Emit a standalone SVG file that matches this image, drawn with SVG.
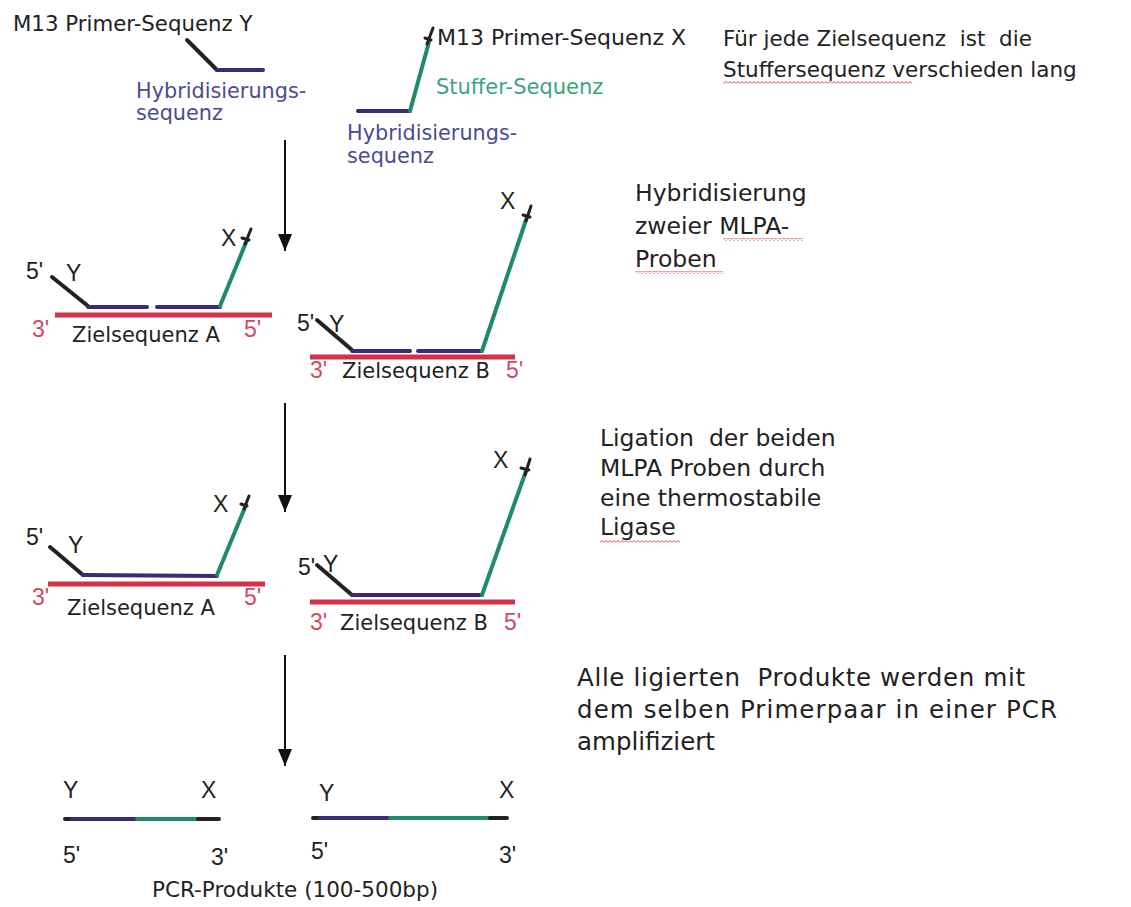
<svg xmlns="http://www.w3.org/2000/svg" width="1131" height="907" viewBox="0 0 1131 907">
<defs>
<style>
.dna{fill:none;stroke-width:4;stroke-linecap:round;stroke-linejoin:round}
.blk{stroke:#222}
.pur{stroke:#3b2a78}
.grn{stroke:#1f8c63}
.red{stroke:#d3304a;stroke-width:5;stroke-linecap:butt}
.tick{fill:none;stroke:#222;stroke-width:3;stroke-linecap:round}
.t{font-family:"DejaVu Sans",Verdana,sans-serif;fill:#222}
.lab{font-family:"Liberation Sans",Arial,sans-serif;font-size:23px;fill:#222}
.rl{fill:#d04a62}
.hyb{fill:#4c4c8e}
.stf{fill:#3aa57c}
.arr{stroke:#111;stroke-width:2;fill:none}
</style>
<marker id="ah" markerWidth="17" markerHeight="14" refX="17" refY="7" orient="auto" markerUnits="userSpaceOnUse" viewBox="0 0 17 14"><path d="M0,0 L17,7 L0,14 Z" fill="#111"/></marker>
<pattern id="wv" patternUnits="userSpaceOnUse" width="4" height="3"><path d="M0,2.5 L2,0.5 L4,2.5" fill="none" stroke="#d03a3a" stroke-width="0.9"/></pattern>
</defs>
<rect width="1131" height="907" fill="#fff"/>

<g id="connectors">
<line class="arr" x1="285" y1="140" x2="285" y2="251" marker-end="url(#ah)"/>
<line class="arr" x1="285" y1="403" x2="285" y2="512" marker-end="url(#ah)"/>
<line class="arr" x1="285" y1="655" x2="285" y2="766" marker-end="url(#ah)"/>
</g>

<g id="probe-y">
<path class="dna blk" d="M187,40 L217,70"/>
<path class="dna pur" d="M217,70 L263,70"/>
<text class="t" x="13" y="31" font-size="21.3">M13 Primer-Sequenz Y</text>
<text class="t hyb" x="136" y="98" font-size="20.8">Hybridisierungs-</text>
<text class="t hyb" x="136" y="120" font-size="20.8">sequenz</text>
</g>

<g id="probe-x">
<path class="dna pur" d="M358,111 L410,111"/>
<path class="dna grn" d="M410,111 L429,42"/>
<path class="tick" d="M427,44 L433,28 M425,38 L431,40"/>
<text class="t" x="437" y="45" font-size="22">M13 Primer-Sequenz X</text>
<text class="t stf" x="436" y="94" font-size="21">Stuffer-Sequenz</text>
<text class="t hyb" x="347" y="140" font-size="20.8">Hybridisierungs-</text>
<text class="t hyb" x="347" y="163" font-size="20.8">sequenz</text>
</g>

<g id="note-stuffer">
<text class="t" x="723" y="46" font-size="21.5" xml:space="preserve">Für jede Zielsequenz  ist  die</text>
<text class="t" x="723" y="77" font-size="21.5">Stuffersequenz verschieden lang</text>
<rect x="723" y="81" width="189" height="3" fill="url(#wv)"/>
</g>

<g id="hyb-a">
<path class="red" d="M55,315 L272,315"/>
<path class="dna blk" d="M52,277 L88,306"/>
<path class="dna pur" d="M88,307 L147,307 M157,307 L220,307"/>
<path class="dna grn" d="M220,306 L247,240"/>
<path class="tick" d="M245,244 L251,229 M242,238 L249,240"/>
<text class="lab" x="26" y="279">5'</text>
<text class="lab" x="66" y="281">Y</text>
<text class="lab" x="221" y="246">X</text>
<text class="lab rl" x="32" y="337">3'</text>
<text class="t" x="72" y="342" font-size="21">Zielsequenz A</text>
<text class="lab rl" x="244" y="337">5'</text>
</g>

<g id="hyb-b">
<path class="red" d="M310,357 L515,357"/>
<path class="dna blk" d="M317,320 L352,350"/>
<path class="dna pur" d="M352,351 L410,351 M418,351 L482,351"/>
<path class="dna grn" d="M482,351 L527,217"/>
<path class="tick" d="M526,221 L531,206 M523,215 L530,217"/>
<text class="lab" x="297" y="331">5'</text>
<text class="lab" x="329" y="332">Y</text>
<text class="lab" x="500" y="209">X</text>
<text class="lab rl" x="310" y="378">3'</text>
<text class="t" x="342" y="378" font-size="21">Zielsequenz B</text>
<text class="lab rl" x="506" y="378">5'</text>
</g>

<g id="note-hyb">
<text class="t" x="635" y="201" font-size="23.5">Hybridisierung</text>
<text class="t" x="635" y="234" font-size="23.5">zweier MLPA-</text>
<text class="t" x="635" y="267" font-size="23.5">Proben</text>
<rect x="723" y="238" width="80" height="3" fill="url(#wv)"/>
<rect x="635" y="271" width="88" height="3" fill="url(#wv)"/>
</g>

<g id="lig-a">
<path class="red" d="M48,584 L265,584"/>
<path class="dna blk" d="M50,547 L83,575"/>
<path class="dna pur" d="M83,575 L217,576"/>
<path class="dna grn" d="M217,575 L246,505"/>
<path class="tick" d="M244,509 L249,496 M241,504 L247,506"/>
<text class="lab" x="26" y="545">5'</text>
<text class="lab" x="68" y="553">Y</text>
<text class="lab" x="213" y="512">X</text>
<text class="lab rl" x="32" y="605">3'</text>
<text class="t" x="67" y="615" font-size="21">Zielsequenz A</text>
<text class="lab rl" x="244" y="605">5'</text>
</g>

<g id="lig-b">
<path class="red" d="M310,602 L515,602"/>
<path class="dna blk" d="M317,565 L352,595"/>
<path class="dna pur" d="M352,595 L482,595"/>
<path class="dna grn" d="M482,595 L526,471"/>
<path class="tick" d="M525,475 L530,459 M521,468 L529,470"/>
<text class="lab" x="298" y="575">5'</text>
<text class="lab" x="323" y="572">Y</text>
<text class="lab" x="493" y="468">X</text>
<text class="lab rl" x="310" y="630">3'</text>
<text class="t" x="340" y="630" font-size="21">Zielsequenz B</text>
<text class="lab rl" x="504" y="630">5'</text>
</g>

<g id="note-lig">
<text class="t" x="600" y="446" font-size="23.5" xml:space="preserve">Ligation  der beiden</text>
<text class="t" x="600" y="476" font-size="23.5">MLPA Proben durch</text>
<text class="t" x="600" y="506" font-size="23.5">eine thermostabile</text>
<text class="t" x="600" y="535" font-size="23.5">Ligase</text>
<rect x="600" y="540" width="80" height="3" fill="url(#wv)"/>
</g>

<g id="pcr-1">
<path class="dna blk" d="M65,819 L72,819"/>
<path class="dna pur" d="M72,819 L137,819"/>
<path class="dna grn" d="M137,819 L198,819"/>
<path class="dna blk" d="M198,819 L219,819"/>
<text class="lab" x="63" y="798">Y</text>
<text class="lab" x="201" y="798">X</text>
<text class="lab" x="63" y="863">5'</text>
<text class="lab" x="211" y="865">3'</text>
</g>

<g id="pcr-2">
<path class="dna blk" d="M313,818 L320,818"/>
<path class="dna pur" d="M320,818 L390,818"/>
<path class="dna grn" d="M390,818 L490,818"/>
<path class="dna blk" d="M490,818 L507,818"/>
<text class="lab" x="319" y="801">Y</text>
<text class="lab" x="499" y="798">X</text>
<text class="lab" x="311" y="859">5'</text>
<text class="lab" x="499" y="863">3'</text>
</g>

<g id="note-pcr">
<text class="t" x="577" y="686" font-size="24.5" textLength="448" lengthAdjust="spacing" xml:space="preserve">Alle ligierten  Produkte werden mit</text>
<text class="t" x="577" y="718" font-size="24.5" textLength="480" lengthAdjust="spacing">dem selben Primerpaar in einer PCR</text>
<text class="t" x="577" y="750" font-size="24.5">amplifiziert</text>
</g>

<g id="caption">
<text class="t" x="152" y="897" font-size="21.5" fill="#333">PCR-Produkte (100-500bp)</text>
</g>
</svg>
